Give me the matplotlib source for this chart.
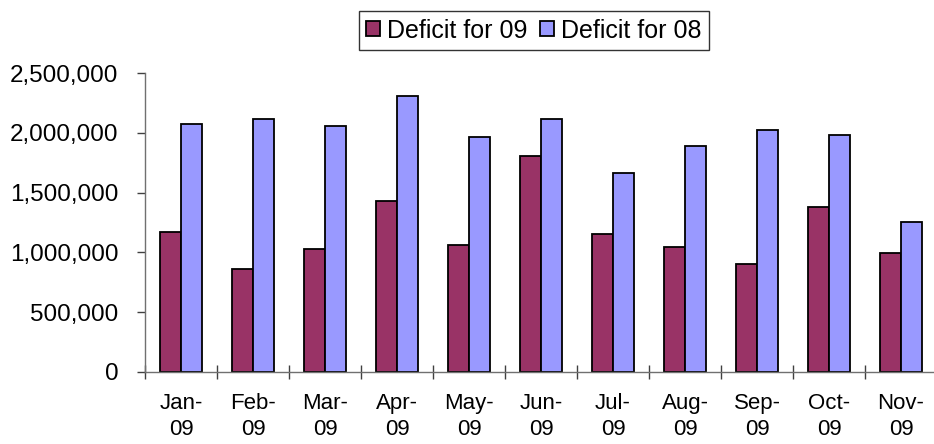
import matplotlib.pyplot as plt
import matplotlib.ticker as ticker
import numpy as np

# DATOS
meses = ["Jan-\n09", "Feb-\n09", "Mar-\n09", "Apr-\n09", "May-\n09", "Jun-\n09",
         "Jul-\n09", "Aug-\n09", "Sep-\n09", "Oct-\n09", "Nov-\n09"]
deficit_09 = [1168000, 858000, 1030000, 1432000, 1064000, 1804000,
              1153000, 1047000, 900000, 1377000, 992000]
deficit_08 = [2072000, 2114000, 2055000, 2306000, 1966000, 2114000,
              1667000, 1893000, 2024000, 1980000, 1254000]

plt.rcParams['font.family'] = ['Liberation Sans', 'DejaVu Sans']

fig = plt.figure(figsize=(9.34, 4.44), dpi=100)
ax = fig.add_axes([145 / 934, 0.1628, (937 - 145) / 934, 0.835 - 0.1628])

x = np.arange(len(meses))
w = 0.294
ax.bar(x - w / 2, deficit_09, w, color="#993366", edgecolor="k", linewidth=1.3,
       label="Deficit for 09")
ax.bar(x + w / 2, deficit_08, w, color="#9999FF", edgecolor="k", linewidth=1.3,
       label="Deficit for 08")

ax.set_xlim(-0.5, len(meses) - 0.5)
ax.set_ylim(0, 2500000)

# EJES
for s in ["top", "right"]:
    ax.spines[s].set_visible(False)
for s in ["left", "bottom"]:
    ax.spines[s].set_color("#707070")
    ax.spines[s].set_linewidth(1.0)
    ax.spines[s].set_clip_on(False)

ax.yaxis.set_major_locator(ticker.MultipleLocator(500000))
ax.yaxis.set_major_formatter(ticker.FuncFormatter(lambda v, p: f"{int(v):,}"))
ax.tick_params(axis="y", direction="out", length=6, width=1, color="#404040",
               pad=13, labelsize=17.5)

ax.set_xticks(x)
ax.set_xticklabels(meses, linespacing=1.35)
ax.set_xticks(np.arange(-0.5, len(meses), 1), minor=True)
ax.tick_params(axis="x", which="major", length=0, pad=15, labelsize=16)
ax.tick_params(axis="x", which="minor", direction="inout", length=10, width=1,
               color="#404040")

ax.legend(loc="center", bbox_to_anchor=(0.5717, 0.9313), bbox_transform=fig.transFigure,
          ncol=2, fontsize=18, frameon=True, fancybox=False, edgecolor="k",
          handlelength=0.55, handleheight=0.55, handletextpad=0.3, columnspacing=0.5,
          borderpad=0.3, borderaxespad=0)
ax.get_legend().get_frame().set_linewidth(1.0)

plt.savefig("out.png", dpi=100)
plt.close(fig)
